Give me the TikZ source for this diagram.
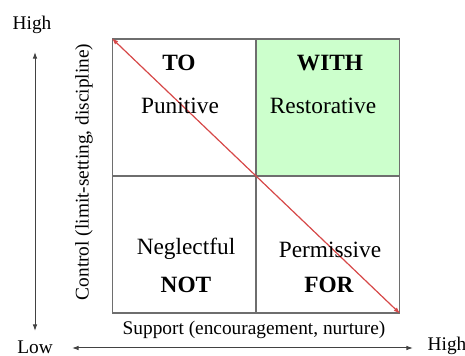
\documentclass[tikz,border=0pt]{standalone}
\usepackage{fontspec}
\setmainfont{Liberation Serif}
\usetikzlibrary{arrows.meta}

\definecolor{gridgray}{RGB}{110,110,110}
\definecolor{withgreen}{RGB}{204,255,204}
\definecolor{diagred}{RGB}{214,72,72}

\tikzset{every picture/.style={line width=0.75pt}}
\tikzset{
  cell/.style={draw=gridgray, line width=1.1pt, minimum width=107.6pt, minimum height=102.8pt, inner sep=0pt},
  celltext/.style={inner sep=0.75pt, font=\fontsize{17.5}{21}\selectfont},
  axistext/.style={inner sep=0.75pt, font=\fontsize{14.5}{17}\selectfont},
}

\begin{document}
\begin{tikzpicture}[x=0.75pt,y=0.75pt,yscale=-1,xscale=1]
\useasboundingbox (0,0) rectangle (465,356);

%Shape: Cells
\node [cell] (punitive) at (184.25,107.5) {};
\node [cell, fill=withgreen] (restorative) at (327.75,107.5) {};
\node [cell] (neglectful) at (184.25,244.5) {};
\node [cell] (permissive) at (327.75,244.5) {};
%Straight Lines: diagonal
\draw [diagred, line width=0.9pt, {Latex[length=5pt,width=3.5pt]}-{Latex[length=5pt,width=3.5pt]}] (punitive.north west) -- (permissive.south east) ;

% Text Node
\node [celltext] (to) at (179,63) {\textbf{TO}};
% Text Node
\node [celltext] (punitivetext) at (180,106) {Punitive};
% Text Node
\node [celltext] (with) at (330,63) {\textbf{WITH}};
% Text Node
\node [celltext] (restorativetext) at (323,106) {Restorative};
% Text Node
\node [celltext] (neglectfultext) at (186,249) {Neglectful};
% Text Node
\node [celltext] (not) at (186,285) {\textbf{NOT}};
% Text Node
\node [celltext] (permissivetext) at (330,250) {Permissive};
% Text Node
\node [celltext] (for) at (329,285) {\textbf{FOR}};

%Axes
\coordinate (ctop) at (35,52);
\coordinate (cbot) at (35,331);
\coordinate (sleft) at (72,348);
\coordinate (sright) at (413,348);
\draw [gridgray!60!black, {Latex[length=5pt,width=3.5pt]}-{Latex[length=5pt,width=3.5pt]}] (ctop) -- (cbot) ;
\draw [gridgray!60!black, {Latex[length=5pt,width=3.5pt]}-{Latex[length=5pt,width=3.5pt]}] (sleft) -- (sright) ;

% Text Node
\node [axistext] (hightop) at (32,25) {High};
% Text Node
\node [axistext] (low) at (35,347) {Low};
% Text Node
\node [axistext] (highright) at (447,346) {High};
% Text Node
\node [axistext, rotate=90] (control) at (84,172) {Control (limit-setting, discipline)};
% Text Node
\node [axistext] (support) at (254,330) {Support (encouragement, nurture)};

\end{tikzpicture}
\end{document}
